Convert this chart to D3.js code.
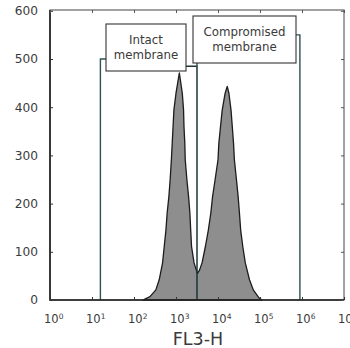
<!DOCTYPE html>
<html><head><meta charset="utf-8">
<script src="https://cdn.jsdelivr.net/npm/d3@7"></script>
<style>body{margin:0;background:#fff}svg{display:block}</style>
</head><body>
<svg id="c" width="350" height="348"></svg>
<script>
// ---- data ----
const histLog = [2.21,2.38,2.52,2.60,2.68,2.72,2.76,2.79,2.83,2.86,2.89,2.91,2.93,2.95,3.00,3.08,3.15,3.18,3.19,3.21,3.22,3.26,3.30,3.33,3.35,3.37,3.43,3.51,3.56,3.62,3.70,3.77,3.83,3.87,3.93,4.00,4.02,4.06,4.10,4.17,4.22,4.26,4.31,4.34,4.37,4.39,4.44,4.48,4.51,4.54,4.59,4.65,4.75,4.84,4.98,5.05];
const histCount = [0,7,21,42,77,111,145,181,214,249,291,325,360,394,429,471,429,394,360,325,291,249,214,181,145,111,77,55,62,77,111,145,181,214,249,291,325,360,394,429,443,429,394,360,325,291,249,214,181,145,111,77,42,21,4,0];
const yTicks = [0,100,200,300,400,500,600];
const xTickExp = [0,1,2,3,4,5,6,7];
const gateLabels = [["Intact","membrane"],["Compromised","membrane"]];
const gateLo = [1.2, 3.5];
const gateHi = [3.5, 5.95];
const gateTopLeft = [500, 485];
const gateTopRight = [485, 550];
const xTitle = "FL3-H";

// ---- scales ----
const svg = d3.select("#c");
const L = 50, R = 344, T = 10, B = 300;
const x = d3.scaleLog().domain([1, 1e7]).range([L, R]);
const y = d3.scaleLinear().domain([0, 600]).range([B, 10.8]);
const font = "DejaVu Sans, sans-serif";
const txt = "#3a3a3a";

// histogram
const pts = histLog.map((e, i) => [e, histCount[i]]);
const area = d3.area().x(d => x(Math.pow(10, d[0]))).y0(y(0)).y1(d => y(d[1]));
svg.append("path").datum(pts).attr("d", area)
  .attr("fill", "#8e8e8e").attr("stroke", "#1c1c1c").attr("stroke-width", 1.3)
  .attr("stroke-linejoin", "round");

const gx = d => x(Math.pow(10, d));

// label boxes geometry
const boxes = [
  {x0: 106, x1: 186, y0: 24, y1: 71},
  {x0: 193, x1: 296, y0: 16, y1: 63}
];
const gateColor = "#2d5153";
// Intact gate
svg.append("path")
  .attr("d", `M${gx(gateLo[0])},${y(0)}V${y(gateTopLeft[0])}H${boxes[0].x0}`)
  .attr("fill", "none").attr("stroke", gateColor).attr("stroke-width", 1.4);
svg.append("path")
  .attr("d", `M${boxes[0].x1},${y(gateTopRight[0])}H${gx(gateHi[0])}V${y(0)}`)
  .attr("fill", "none").attr("stroke", "#1e3537").attr("stroke-width", 1.5);
// Compromised gate
svg.append("path")
  .attr("d", `M${gx(gateLo[1])},${y(gateTopRight[0])}V${boxes[1].y1}`)
  .attr("fill", "none").attr("stroke", gateColor).attr("stroke-width", 1.4);
svg.append("path")
  .attr("d", `M${boxes[1].x1},${y(gateTopRight[1])}H${gx(gateHi[1])}V${y(0)}`)
  .attr("fill", "none").attr("stroke", gateColor).attr("stroke-width", 1.4);

// label boxes
boxes.forEach((b, i) => {
  svg.append("rect").attr("x", b.x0).attr("y", b.y0).attr("width", b.x1 - b.x0).attr("height", b.y1 - b.y0)
    .attr("fill", "#fff").attr("stroke", "#333").attr("stroke-width", 1.1);
  const cx = (b.x0 + b.x1) / 2;
  gateLabels[i].forEach((t, j) => {
    svg.append("text").attr("x", cx).attr("y", b.y0 + 19.5 + j * 15.5)
      .attr("text-anchor", "middle").attr("font-family", font).attr("font-size", 11.8)
      .attr("fill", txt).text(t);
  });
});

// frame
svg.append("rect").attr("x", L).attr("y", T).attr("width", R - L).attr("height", B - T)
  .attr("fill", "none").attr("stroke", "#444").attr("stroke-width", 1);
svg.append("path").attr("d", `M${L},${T}V${B}H${R}`).attr("fill", "none")
  .attr("stroke", "#1e1e1e").attr("stroke-width", 1.6);

// y axis (inward ticks)
const gy = svg.append("g").attr("transform", `translate(${L},0)`)
  .call(d3.axisLeft(y).tickValues(yTicks).tickSize(-3).tickPadding(12).tickFormat(d3.format("d")));
gy.select(".domain").remove();
gy.selectAll("line").attr("stroke", "#333");
gy.selectAll("text").attr("font-family", font).attr("font-size", 12.2).attr("fill", txt);
const gyr = svg.append("g").attr("transform", `translate(${R},0)`)
  .call(d3.axisRight(y).tickValues(yTicks).tickSize(-3).tickFormat(""));
gyr.select(".domain").remove();
gyr.selectAll("line").attr("stroke", "#555");

// x axis
const gxa = svg.append("g").attr("transform", `translate(0,${B})`)
  .call(d3.axisBottom(x).tickValues(xTickExp.map(e => Math.pow(10, e))).tickSize(-3).tickFormat(""));
gxa.select(".domain").remove();
gxa.selectAll("line").attr("stroke", "#333");
gxa.selectAll(".tick").each(function(d, i) {
  const t = d3.select(this).append("text").attr("x", -6.5).attr("y", 23)
    .attr("text-anchor", "start").attr("font-family", font).attr("font-size", 11.5)
    .attr("fill", txt);
  t.append("tspan").text("10");
  t.append("tspan").attr("dy", -4.5).attr("font-size", 7.5).text(String(xTickExp[i]));
});
const gxt = svg.append("g").attr("transform", `translate(0,${T})`)
  .call(d3.axisTop(x).tickValues(xTickExp.map(e => Math.pow(10, e))).tickSize(-3).tickFormat(""));
gxt.select(".domain").remove();
gxt.selectAll("line").attr("stroke", "#555");

// x title
svg.append("text").attr("x", (L + R) / 2 + 1).attr("y", 345).attr("text-anchor", "middle")
  .attr("font-family", font).attr("font-size", 17.5).attr("fill", txt).text(xTitle);
</script>
</body></html>
